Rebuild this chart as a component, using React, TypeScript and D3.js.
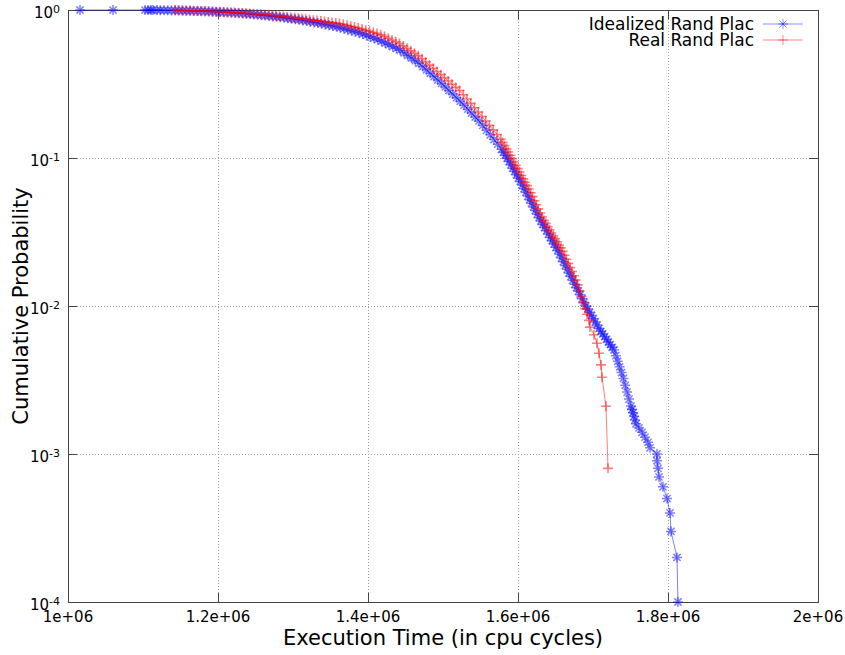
import React from 'react';
import * as d3 from 'd3';

const W = 845;
const H = 655;
const PLOT = { left: 68, right: 818, top: 10, bottom: 602 };

const xTickValues = [1e6, 1.2e6, 1.4e6, 1.6e6, 1.8e6, 2e6];
const xTickLabels = ['1e+06', '1.2e+06', '1.4e+06', '1.6e+06', '1.8e+06', '2e+06'];
const yTickValues = [1, 1e-1, 1e-2, 1e-3, 1e-4];
const yTickExponents = ['0', '-1', '-2', '-3', '-4'];
const seriesNames = ['Idealized Rand Plac', 'Real Rand Plac'];
const seriesColors = ['#0000ff', '#ff0000'];
const xTitle = 'Execution Time (in cpu cycles)';
const yTitle = 'Cumulative Probability';

// [execution time (cycles), exceedance probability]
const idealized: [number, number][] = [
  [1.016e6, 1.0], [1.06e6, 0.9999], [1.1027e6, 0.9998], [1.1067e6, 0.9997], [1.1107e6, 0.9995],
  [1.1133e6, 0.9993], [1.1187e6, 0.999], [1.123e6, 0.997], [1.128e6, 0.9956], [1.133e6, 0.9945],
  [1.138e6, 0.9933], [1.143e6, 0.9921], [1.148e6, 0.9909], [1.153e6, 0.9896], [1.158e6, 0.9882],
  [1.163e6, 0.9867], [1.168e6, 0.9853], [1.173e6, 0.9839], [1.178e6, 0.982], [1.183e6, 0.9791],
  [1.188e6, 0.9762], [1.193e6, 0.9734], [1.198e6, 0.9705], [1.203e6, 0.9676], [1.208e6, 0.9645],
  [1.213e6, 0.9614], [1.218e6, 0.9584], [1.223e6, 0.9553], [1.228e6, 0.9523], [1.233e6, 0.9478],
  [1.238e6, 0.9428], [1.243e6, 0.9379], [1.248e6, 0.933], [1.253e6, 0.9281], [1.258e6, 0.9227],
  [1.263e6, 0.9169], [1.268e6, 0.9111], [1.273e6, 0.9053], [1.278e6, 0.8996], [1.283e6, 0.8939],
  [1.288e6, 0.8866], [1.293e6, 0.8793], [1.298e6, 0.8721], [1.303e6, 0.8649], [1.308e6, 0.8578],
  [1.313e6, 0.8496], [1.318e6, 0.8413], [1.323e6, 0.833], [1.328e6, 0.8248], [1.333e6, 0.8167],
  [1.338e6, 0.808], [1.343e6, 0.7982], [1.348e6, 0.7885], [1.353e6, 0.7789], [1.358e6, 0.7694],
  [1.363e6, 0.76], [1.368e6, 0.7481], [1.373e6, 0.7364], [1.378e6, 0.7249], [1.383e6, 0.7136],
  [1.388e6, 0.7025], [1.393e6, 0.6884], [1.398e6, 0.6735], [1.403e6, 0.6589], [1.408e6, 0.6447],
  [1.413e6, 0.6301], [1.418e6, 0.6154], [1.423e6, 0.5983], [1.428e6, 0.582], [1.433e6, 0.5661],
  [1.438e6, 0.5508], [1.443e6, 0.5354], [1.448e6, 0.5139], [1.453e6, 0.4933], [1.458e6, 0.4735],
  [1.463e6, 0.4546], [1.468e6, 0.4362], [1.473e6, 0.4151], [1.478e6, 0.394], [1.483e6, 0.3738],
  [1.488e6, 0.3548], [1.493e6, 0.3366], [1.498e6, 0.319], [1.503e6, 0.3019], [1.508e6, 0.2857],
  [1.513e6, 0.2703], [1.518e6, 0.2557], [1.523e6, 0.2417], [1.528e6, 0.2274], [1.533e6, 0.2138],
  [1.538e6, 0.2011], [1.543e6, 0.1891], [1.548e6, 0.1779], [1.553e6, 0.1659], [1.558e6, 0.1542],
  [1.563e6, 0.1434], [1.568e6, 0.1333], [1.573e6, 0.124], [1.578e6, 0.1144], [1.5805e6, 0.1092],
  [1.583e6, 0.1043], [1.5855e6, 0.0996], [1.588e6, 0.0946], [1.5905e6, 0.0899], [1.593e6, 0.0853],
  [1.5955e6, 0.0811], [1.598e6, 0.077], [1.6005e6, 0.0731], [1.603e6, 0.0694], [1.6055e6, 0.0656],
  [1.608e6, 0.062], [1.6105e6, 0.0586], [1.613e6, 0.0553], [1.6155e6, 0.0523], [1.618e6, 0.0494],
  [1.6205e6, 0.0467], [1.623e6, 0.0441], [1.6255e6, 0.0417], [1.628e6, 0.0395], [1.6305e6, 0.0375],
  [1.633e6, 0.0356], [1.6355e6, 0.0339], [1.638e6, 0.0322], [1.6405e6, 0.0306], [1.643e6, 0.029],
  [1.6455e6, 0.0276], [1.648e6, 0.0262], [1.6505e6, 0.0249], [1.653e6, 0.0237], [1.6555e6, 0.0224],
  [1.658e6, 0.0211], [1.6605e6, 0.0199], [1.663e6, 0.0188], [1.6655e6, 0.0177], [1.668e6, 0.0167],
  [1.6705e6, 0.0158], [1.673e6, 0.0149], [1.6755e6, 0.014], [1.678e6, 0.0133], [1.6805e6, 0.0126],
  [1.683e6, 0.0119], [1.6855e6, 0.0112], [1.688e6, 0.0106], [1.6905e6, 0.01], [1.693e6, 0.00955],
  [1.6955e6, 0.00908], [1.698e6, 0.00863], [1.7005e6, 0.00821], [1.703e6, 0.00781], [1.7055e6, 0.00743],
  [1.708e6, 0.00706], [1.7105e6, 0.00675], [1.713e6, 0.00647], [1.7155e6, 0.00621], [1.718e6, 0.00596],
  [1.7205e6, 0.00571], [1.723e6, 0.00548], [1.7255e6, 0.00526], [1.728e6, 0.00504], [1.7305e6, 0.00462],
  [1.733e6, 0.00423], [1.7355e6, 0.00388], [1.738e6, 0.00355], [1.7405e6, 0.00324], [1.743e6, 0.00291],
  [1.7455e6, 0.00262], [1.748e6, 0.00235], [1.7505e6, 0.00211], [1.752e6, 0.002], [1.7533e6, 0.0019],
  [1.7547e6, 0.0018], [1.756e6, 0.0017], [1.7573e6, 0.0016], [1.7613e6, 0.0015], [1.7653e6, 0.0014],
  [1.7693e6, 0.0013], [1.7733e6, 0.0012], [1.776e6, 0.0011], [1.7853e6, 0.001], [1.7853e6, 0.0009],
  [1.7867e6, 0.0008], [1.788e6, 0.0007], [1.7933e6, 0.0006], [1.7987e6, 0.0005], [1.8027e6, 0.0004],
  [1.804e6, 0.0003], [1.812e6, 0.0002], [1.8133e6, 0.0001],
];

const real: [number, number][] = [
  [1.1427e6, 1.0], [1.147e6, 0.998], [1.152e6, 0.9957], [1.157e6, 0.9933], [1.162e6, 0.9911],
  [1.167e6, 0.9887], [1.172e6, 0.9864], [1.177e6, 0.9841], [1.182e6, 0.9818], [1.187e6, 0.9795],
  [1.192e6, 0.9772], [1.197e6, 0.9749], [1.202e6, 0.9726], [1.207e6, 0.9699], [1.212e6, 0.9671],
  [1.217e6, 0.9643], [1.222e6, 0.9615], [1.227e6, 0.9587], [1.232e6, 0.9552], [1.237e6, 0.951],
  [1.242e6, 0.9468], [1.247e6, 0.9427], [1.252e6, 0.9385], [1.257e6, 0.9342], [1.262e6, 0.9291],
  [1.267e6, 0.924], [1.272e6, 0.9189], [1.277e6, 0.9139], [1.282e6, 0.9088], [1.287e6, 0.9029],
  [1.292e6, 0.8969], [1.297e6, 0.8909], [1.302e6, 0.8849], [1.307e6, 0.879], [1.312e6, 0.8729],
  [1.317e6, 0.8665], [1.322e6, 0.8602], [1.327e6, 0.854], [1.332e6, 0.8478], [1.337e6, 0.8415],
  [1.342e6, 0.8354], [1.347e6, 0.8293], [1.352e6, 0.8233], [1.357e6, 0.8173], [1.362e6, 0.8114],
  [1.367e6, 0.8003], [1.372e6, 0.7889], [1.377e6, 0.7775], [1.382e6, 0.7663], [1.387e6, 0.7551],
  [1.392e6, 0.7431], [1.397e6, 0.73], [1.402e6, 0.7174], [1.407e6, 0.705], [1.412e6, 0.6928],
  [1.417e6, 0.6796], [1.422e6, 0.6615], [1.427e6, 0.6436], [1.432e6, 0.6265], [1.437e6, 0.6098],
  [1.442e6, 0.5936], [1.447e6, 0.5722], [1.452e6, 0.5505], [1.457e6, 0.5296], [1.462e6, 0.5093],
  [1.467e6, 0.49], [1.472e6, 0.4686], [1.477e6, 0.4458], [1.482e6, 0.4242], [1.487e6, 0.4037],
  [1.492e6, 0.3843], [1.497e6, 0.3658], [1.502e6, 0.3481], [1.507e6, 0.3313], [1.512e6, 0.3153],
  [1.517e6, 0.3], [1.522e6, 0.2855], [1.527e6, 0.2677], [1.532e6, 0.2502], [1.537e6, 0.2339],
  [1.542e6, 0.2187], [1.547e6, 0.2045], [1.552e6, 0.1909], [1.557e6, 0.178], [1.562e6, 0.166],
  [1.567e6, 0.1548], [1.572e6, 0.1443], [1.577e6, 0.1338], [1.5795e6, 0.1273], [1.582e6, 0.1212],
  [1.5845e6, 0.1153], [1.587e6, 0.1097], [1.5895e6, 0.1043], [1.592e6, 0.099], [1.5945e6, 0.0939],
  [1.597e6, 0.0892], [1.5995e6, 0.0847], [1.602e6, 0.0804], [1.6045e6, 0.0762], [1.607e6, 0.0723],
  [1.6095e6, 0.0686], [1.612e6, 0.0651], [1.6145e6, 0.0618], [1.617e6, 0.0583], [1.6195e6, 0.0548],
  [1.622e6, 0.0514], [1.6245e6, 0.0483], [1.627e6, 0.0453], [1.6295e6, 0.0425], [1.632e6, 0.0399],
  [1.6345e6, 0.038], [1.637e6, 0.0362], [1.6395e6, 0.0344], [1.642e6, 0.0327], [1.6445e6, 0.0311],
  [1.647e6, 0.0297], [1.6495e6, 0.0284], [1.652e6, 0.0271], [1.6545e6, 0.0258], [1.657e6, 0.0247],
  [1.6595e6, 0.0234], [1.662e6, 0.022], [1.6645e6, 0.0207], [1.667e6, 0.0194], [1.6695e6, 0.0182],
  [1.672e6, 0.0171], [1.6745e6, 0.016], [1.677e6, 0.015], [1.6795e6, 0.0139], [1.682e6, 0.0127],
  [1.6845e6, 0.0116], [1.687e6, 0.0105], [1.6893e6, 0.0096], [1.692e6, 0.0088], [1.6947e6, 0.008],
  [1.696e6, 0.0072], [1.7013e6, 0.0064], [1.7053e6, 0.0056], [1.708e6, 0.0048], [1.7107e6, 0.004],
  [1.712e6, 0.0033], [1.7173e6, 0.0021], [1.72e6, 0.0008],
];

const seriesData = [idealized, real];

function asteriskPath(cx: number, cy: number) {
  const s = 5;
  const d = 3.6;
  return `M${cx - s},${cy}h${2 * s}M${cx},${cy - s}v${2 * s}` +
    `M${cx - d},${cy - d}l${2 * d},${2 * d}M${cx - d},${cy + d}l${2 * d},${-2 * d}`;
}
function plusPath(cx: number, cy: number) {
  const s = 5;
  return `M${cx - s},${cy}h${2 * s}M${cx},${cy - s}v${2 * s}`;
}

export default function App() {
  const x = d3.scaleLinear().domain([1e6, 2e6]).range([PLOT.left, PLOT.right]);
  const y = d3.scaleLog().domain([1e-4, 1]).range([PLOT.bottom, PLOT.top]);
  const line = d3.line<[number, number]>().x((d) => x(d[0])).y((d) => y(d[1]));
  const markerFns = [asteriskPath, plusPath];
  const markerWidths = [1.5, 1.6];
  const border = '#444';
  const tickLen = 9;

  return (
    <svg
      width={W}
      height={H}
      style={{ position: 'absolute', left: 0, top: 0, background: '#fff' }}
      fontFamily="'DejaVu Sans', sans-serif"
    >
      <rect x={0} y={0} width={W} height={H} fill="#fff" />
      {/* grid */}
      <g stroke="#9a9a9a" strokeWidth={1} strokeDasharray="1,2">
        {xTickValues.slice(1, -1).map((v) => (
          <line key={'gx' + v} x1={Math.round(x(v)) + 0.5} x2={Math.round(x(v)) + 0.5} y1={PLOT.top} y2={PLOT.bottom} />
        ))}
        {yTickValues.slice(1, -1).map((v) => (
          <line key={'gy' + v} x1={PLOT.left} x2={PLOT.right} y1={Math.round(y(v)) + 0.5} y2={Math.round(y(v)) + 0.5} />
        ))}
      </g>
      {/* ticks */}
      <g stroke={border} strokeWidth={1}>
        {xTickValues.map((v) => {
          const px = Math.round(x(v)) + 0.5;
          return (
            <g key={'tx' + v}>
              <line x1={px} x2={px} y1={PLOT.bottom} y2={PLOT.bottom - tickLen} />
              <line x1={px} x2={px} y1={PLOT.top} y2={PLOT.top + tickLen} />
            </g>
          );
        })}
        {yTickValues.map((v) => {
          const py = Math.round(y(v)) + 0.5;
          return (
            <g key={'ty' + v}>
              <line x1={PLOT.left} x2={PLOT.left + tickLen} y1={py} y2={py} />
              <line x1={PLOT.right} x2={PLOT.right - tickLen} y1={py} y2={py} />
            </g>
          );
        })}
      </g>
      <rect
        x={PLOT.left + 0.5}
        y={PLOT.top + 0.5}
        width={PLOT.right - PLOT.left}
        height={PLOT.bottom - PLOT.top}
        fill="none"
        stroke={border}
        strokeWidth={1}
      />
      {/* tick labels */}
      <g fontSize={15} fill="#000">
        {xTickValues.map((v, i) => (
          <text key={'lx' + v} x={x(v)} y={622} textAnchor="middle">{xTickLabels[i]}</text>
        ))}
        {yTickValues.map((v, i) => (
          <text key={'ly' + v} x={60} y={y(v) + 8} textAnchor="end">
            <tspan>10</tspan>
            <tspan dy={-5.5} fontSize={11}>{yTickExponents[i]}</tspan>
          </text>
        ))}
      </g>
      {/* axis titles */}
      <text x={(PLOT.left + PLOT.right) / 2} y={645} textAnchor="middle" fontSize={21}>{xTitle}</text>
      <text
        transform={`translate(28,${(PLOT.top + PLOT.bottom) / 2}) rotate(-90)`}
        textAnchor="middle"
        fontSize={21}
      >
        {yTitle}
      </text>
      {/* data */}
      {seriesData.map((data, si) => (
        <g key={'s' + si}>
          <path d={line(data) || ''} fill="none" stroke={seriesColors[si]} strokeOpacity={0.5} strokeWidth={1} />
          <g stroke={seriesColors[si]} strokeWidth={markerWidths[si]} strokeOpacity={0.5} fill="none">
            {data.map((d, i) => (
              <path key={i} d={markerFns[si](x(d[0]), y(d[1]))} />
            ))}
          </g>
        </g>
      ))}
      {/* legend */}
      {seriesNames.map((name, si) => {
        const ly = 24 + si * 16;
        return (
          <g key={'lg' + si}>
            <text x={754} y={ly + 6} textAnchor="end" fontSize={17}>{name}</text>
            <line x1={763} x2={803} y1={ly} y2={ly} stroke={seriesColors[si]} strokeOpacity={0.45} />
            <path d={markerFns[si](783, ly)} stroke={seriesColors[si]} strokeOpacity={0.45} fill="none" />
          </g>
        );
      })}
    </svg>
  );
}
